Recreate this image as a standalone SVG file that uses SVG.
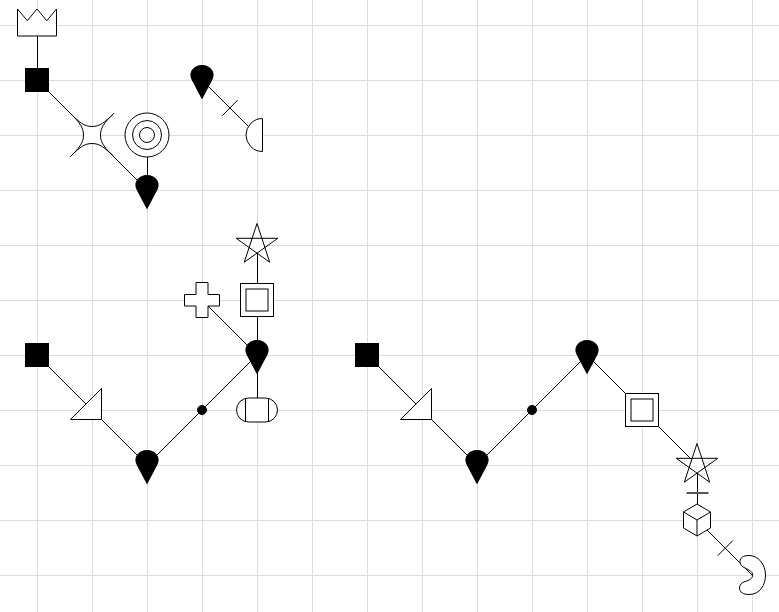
<svg xmlns="http://www.w3.org/2000/svg" width="779" height="612" viewBox="0 0 779 612">
<style>
.grid{stroke:#dcdcdc;stroke-width:1;fill:none}
.c{stroke:#000;stroke-width:1;fill:none}
.n{stroke:#000;stroke-width:1;fill:#fff}
.b{stroke:#000;stroke-width:1;fill:#000}
</style>
<defs>
<path id="drop" d="M0,16.500 L-10,-2.500 C-13.500,-9.500 -8.500,-16.500 0,-16.500 C8.500,-16.500 13.500,-9.500 10,-2.500 Z"/>
<path id="star" d="M0,-21.500 L12.700,17.200 L-20.800,-6.700 L20.800,-6.700 L-12.700,17.200 Z"/>
<g id="dbl"><rect class="n" x="-16.500" y="-16.500" width="33" height="33"/><rect class="n" x="-11" y="-11" width="22" height="22"/></g>
</defs>
<g id="grid" class="grid">
<path d="M37.500,0V612M92.500,0V612M147.500,0V612M202.500,0V612M257.500,0V612M312.500,0V612M367.500,0V612M422.500,0V612M477.500,0V612M532.500,0V612M587.500,0V612M642.500,0V612M697.500,0V612M752.500,0V612"/>
<path d="M0,25.500H779M0,80.500H779M0,135.500H779M0,190.500H779M0,245.500H779M0,300.500H779M0,355.500H779M0,410.500H779M0,465.500H779M0,520.500H779M0,575.500H779"/>
</g>
<g id="connectors" class="c">
<path d="M37.500,25V80"/>
<path d="M37,80L147,190"/>
<path d="M147.500,135V190"/>
<path d="M202,80L257,135"/>
<path d="M222.300,115.700L237.700,100"/>
<path d="M257.500,245V410"/>
<path d="M202,300L257,355"/>
<path d="M37,355L147,465L257,355"/>
<path d="M367,355L477,465L587,355L697,465"/>
<path d="M697.500,465V520"/>
<path d="M686.500,493H708.500" stroke-width="2" stroke="#555"/>
<path d="M697,520L752,575"/>
<path d="M717.700,555.700L732.700,540.700"/>
</g>
<g id="crown"><path class="n" d="M17.500,9L27.300,20.700L37,9L46.800,20.700L56.500,9V36H17.500Z"/></g>
<g id="sq1"><rect class="b" x="25.500" y="68.500" width="23" height="23"/></g>
<g id="star4"><path class="n" d="M113.700,113.500C105,122 100,126.500 92,126.500C84,126.500 79,122 70.500,113.500C79,122 83.500,127 83.500,135C83.500,143 79,148 70.500,156.500C79,148 84,143.500 92,143.500C100,143.500 105,148 113.700,156.500C105,148 100.500,143 100.500,135C100.500,127 105,122 113.700,113.500Z"/></g>
<g id="target"><circle class="n" cx="147" cy="135" r="22"/><circle class="n" cx="147" cy="135" r="14.500"/><circle class="n" cx="147" cy="135" r="7.500"/></g>
<g id="drop1"><use href="#drop" class="b" x="147" y="192"/></g>
<g id="drop2"><use href="#drop" class="b" x="202" y="82"/></g>
<g id="half"><path class="n" d="M262.500,118.500A16.500,16.500 0 0 0 262.500,151.500Z"/></g>
<g id="star1"><use href="#star" class="n" x="257" y="245"/></g>
<g id="dbl1"><use href="#dbl" x="257" y="300"/></g>
<g id="cross"><path class="n" stroke-linejoin="round" d="M196,282.500H208V294.500H219.500V306H208V317.500H196V306H184.500V294.500H196Z"/></g>
<g id="drop3"><use href="#drop" class="b" x="257" y="357"/></g>
<g id="pill"><rect class="n" x="236.500" y="398" width="41" height="24" rx="12"/><path class="c" d="M245.500,398V422M268.500,398V422"/></g>
<g id="sq2"><rect class="b" x="25.500" y="343.500" width="23" height="23"/></g>
<g id="tri1"><path class="n" d="M101.500,388.500V419.500H70.500Z"/></g>
<g id="drop4"><use href="#drop" class="b" x="147" y="467"/></g>
<g id="dot1"><circle class="b" cx="202" cy="410" r="4.500"/></g>
<g id="sq3"><rect class="b" x="355.500" y="343.500" width="23" height="23"/></g>
<g id="tri2"><path class="n" d="M431.500,388.500V419.500H400.500Z"/></g>
<g id="drop5"><use href="#drop" class="b" x="477" y="467"/></g>
<g id="dot2"><circle class="b" cx="532" cy="410" r="4.500"/></g>
<g id="drop6"><use href="#drop" class="b" x="587" y="357"/></g>
<g id="dbl2"><use href="#dbl" x="642" y="410"/></g>
<g id="star2"><use href="#star" class="n" x="697" y="465"/></g>
<g id="cube"><path class="n" d="M697,504L710.500,512V528L697,536L683.500,528V512Z"/><path class="c" d="M683.500,512L697,520L710.500,512M697,520V536"/></g>
<g id="moon"><path class="n" d="M740,561.500C740,565 742,566.500 745,568C749,570 752.700,571.500 752.700,575C752.700,578.500 749,580.500 745,581.500C742,582.500 739.500,584.500 739.500,588C739.500,592 743,594.500 749,594.500C760,594.500 765.500,585 765.500,575C765.500,564 758,555.500 749,555.500C743.500,555.500 740,557.500 740,561.500Z"/></g>
</svg>
